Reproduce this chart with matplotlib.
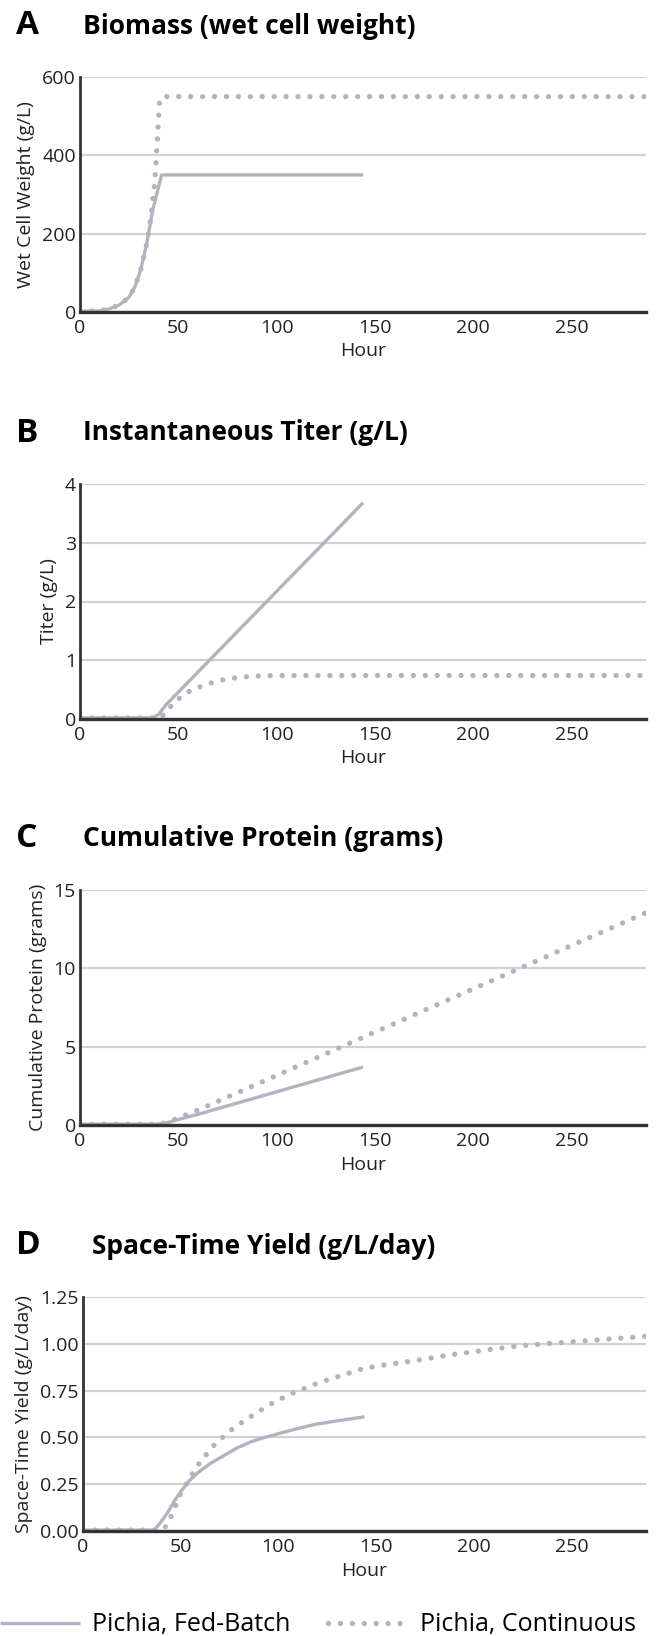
import matplotlib
matplotlib.use("Agg")
import matplotlib.pyplot as plt

plt.rcParams["font.family"] = ["Open Sans", "DejaVu Sans"]

# ---- data ----
# A: biomass (g/L)
a_fb_hours = [0, 10, 15, 20, 25, 28, 31, 34, 37, 41.5, 144]
a_fb_vals = [2, 3, 8, 18, 38, 65, 110, 176, 260, 350, 350]
a_ct_hours = [0, 10, 15, 20, 25, 28, 31, 34, 36, 38, 39.5, 40.5, 42, 288]
a_ct_vals = [2, 3, 8, 18, 38, 65, 110, 176, 240, 330, 450, 540, 550, 550]

# B: instantaneous titer (g/L)
b_fb_hours = [0, 37, 40, 44, 144]
b_fb_vals = [0.02, 0.02, 0.08, 0.25, 3.68]
b_ct_hours = [0, 40, 43, 47.5, 52, 57, 63, 69, 75, 81, 87, 93, 100, 288]
b_ct_vals = [0.02, 0.02, 0.08, 0.27, 0.39, 0.5, 0.57, 0.64, 0.68, 0.71, 0.725, 0.735, 0.74, 0.74]

# C: cumulative protein (grams)
c_fb_hours = [0, 38, 42, 46, 50, 60, 144]
c_fb_vals = [0.05, 0.05, 0.1, 0.2, 0.35, 0.68, 3.7]
c_ct_hours = [0, 40, 44, 50, 60, 288]
c_ct_vals = [0.05, 0.05, 0.15, 0.45, 0.95, 13.55]

# D: space-time yield (g/L/day)
d_fb_hours = [0, 36.5, 40, 43.4, 47, 50, 54, 58.6, 65, 71.6, 79, 86.8, 93, 100,
              110, 119, 131, 144]
d_fb_vals = [0.005, 0.005, 0.05, 0.10, 0.165, 0.21, 0.265, 0.31, 0.36, 0.40, 0.445,
             0.48, 0.50, 0.52, 0.548, 0.57, 0.59, 0.61]
d_ct_hours = [0, 40, 43, 46, 50, 55, 60, 68, 77, 87, 98, 108, 120, 132, 144,
              156, 170, 187, 205, 224, 243, 262, 288]
d_ct_vals = [0.005, 0.005, 0.03, 0.1, 0.2, 0.29, 0.37, 0.47, 0.55, 0.62, 0.69, 0.74,
             0.79, 0.83, 0.87, 0.89, 0.91, 0.94, 0.965, 0.99, 1.005, 1.02, 1.04]

panels = [
    ("A", "Biomass (wet cell weight)", "Wet Cell Weight (g/L)",
     a_fb_hours, a_fb_vals, a_ct_hours, a_ct_vals, [0, 200, 400, 600], "{:.0f}"),
    ("B", "Instantaneous Titer (g/L)", "Titer (g/L)",
     b_fb_hours, b_fb_vals, b_ct_hours, b_ct_vals, [0, 1, 2, 3, 4], "{:.0f}"),
    ("C", "Cumulative Protein (grams)", "Cumulative Protein (grams)",
     c_fb_hours, c_fb_vals, c_ct_hours, c_ct_vals, [0, 5, 10, 15], "{:.0f}"),
    ("D", "Space-Time Yield (g/L/day)", "Space-Time Yield (g/L/day)",
     d_fb_hours, d_fb_vals, d_ct_hours, d_ct_vals, [0, 0.25, 0.5, 0.75, 1.0, 1.25], "{:.2f}"),
]
x_ticks = [0, 50, 100, 150, 200, 250]

line_col = "#b4b2c1"
grid_col = "#d2d2d2"
spine_col = "#333333"
text_col = "#222222"

W, H = 657, 1636
fig = plt.figure(figsize=(W / 100, H / 100), dpi=100)

# axes placement in pixels: (left, top, bottom)
boxes = [(80, 77, 312), (80, 484, 719), (80, 890, 1125), (83, 1297, 1531)]
right = 646

for (letter, title, ylabel, fbh, fbv, cth, ctv, yt, fmt), (l, t, b) in zip(panels, boxes):
    ax = fig.add_axes([l / W, 1 - b / H, (right - l) / W, (b - t) / H])
    ax.plot(cth, ctv, color=line_col, lw=3.8, linestyle=(0, (0.01, 2.25)),
            dash_capstyle="round", zorder=3, label="Pichia, Continuous")
    ax.plot(fbh, fbv, color=line_col, lw=2.4, solid_capstyle="butt",
            solid_joinstyle="round", zorder=4, label="Pichia, Fed-Batch")
    ax.set_xlim(0, 288)
    ax.set_ylim(yt[0], yt[-1])
    ax.set_yticks(yt)
    ax.set_yticklabels([fmt.format(v) for v in yt])
    ax.set_xticks(x_ticks)
    ax.grid(axis="y", color=grid_col, lw=1.6, zorder=0)
    ax.set_axisbelow(True)
    for s in ["top", "right"]:
        ax.spines[s].set_visible(False)
    ax.spines["left"].set_color(spine_col)
    ax.spines["left"].set_linewidth(2.0)
    ax.spines["bottom"].set_color(spine_col)
    ax.spines["bottom"].set_linewidth(2.4)
    ax.spines["left"].set_zorder(5)
    ax.spines["bottom"].set_zorder(5)
    ax.tick_params(length=0, labelsize=14, colors=text_col)
    ax.tick_params(axis="x", pad=5)
    ax.tick_params(axis="y", pad=3)
    ax.set_xlabel("Hour", fontsize=14, color=text_col, labelpad=4)
    ax.set_ylabel(ylabel, fontsize=14, color=text_col, labelpad=5)

    ty = 1 - (t - 51) / H
    fig.text(16 / W, ty, letter, fontsize=24, fontweight="bold", va="center", ha="left")
    fig.text((l + 3 + (6 if letter == "D" else 0)) / W, ty, title, fontsize=19,
             fontweight="bold", va="center", ha="left")

handles, labels = ax.get_legend_handles_labels()
fig.legend(handles[::-1], labels[::-1], loc="center left", ncol=2,
           bbox_to_anchor=(0.0, 1 - 1625 / H), frameon=False, fontsize=18,
           handlelength=3.2, handletextpad=0.48, columnspacing=1.5,
           borderpad=0, borderaxespad=0)

fig.savefig("out.png", dpi=100, facecolor="white")
